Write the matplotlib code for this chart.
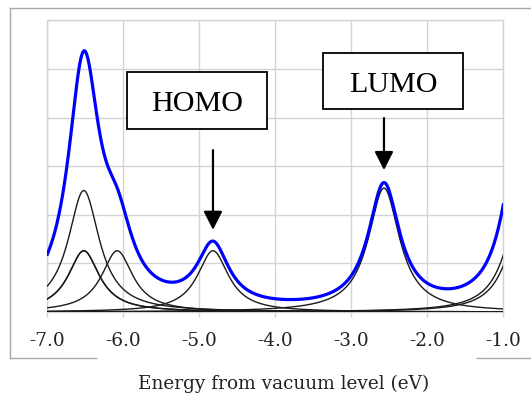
import numpy as np
import matplotlib
matplotlib.use("Agg")
import matplotlib.pyplot as plt
from matplotlib.patches import Rectangle
from matplotlib.lines import Line2D

# peak parameters (Lorentzian bands)
peak_centers = [-6.52, -6.52, -6.52, -6.08, -4.82, -2.57, -0.78, -0.78]
peak_heights = [2.50, 1.26, 1.26, 1.26, 1.26, 2.55, 2.08, 1.69]
peak_hwhm = [0.25, 0.25, 0.25, 0.25, 0.25, 0.25, 0.25, 0.25]

x_ticks = [-7.0, -6.0, -5.0, -4.0, -3.0, -2.0, -1.0]
x_labels = ["-7.0", "-6.0", "-5.0", "-4.0", "-3.0", "-2.0", "-1.0"]

homo_x = -4.82
lumo_x = -2.57

W, H = 531, 394
fig = plt.figure(figsize=(W / 100, H / 100), dpi=100)
ax = fig.add_axes([47.3 / W, 82 / H, 456 / W, 291.6 / H])

grid_c = "#d4d4d4"
x = np.linspace(-7, -1, 1200)
total = np.zeros_like(x)
for c, h, g in zip(peak_centers, peak_heights, peak_hwhm):
    y = h * g**2 / ((x - c) ** 2 + g**2)
    total += y
    ax.plot(x, y, color="#1a1a1a", lw=1.0, zorder=3)
ax.plot(x, total, color="#0000ff", lw=2.3, zorder=4)

ax.set_xlim(-7, -1)
ax.set_ylim(0, 6)
ax.set_xticks(x_ticks)
ax.set_xticklabels(x_labels, family="DejaVu Serif", fontsize=13.3, color="#222222")
ax.set_yticks(np.arange(0, 7))
ax.tick_params(axis="y", length=0, labelleft=False)
ax.tick_params(axis="x", length=3.6, width=1, color=grid_c, pad=11)
ax.grid(True, color=grid_c, lw=1.0, zorder=0)
for s in ax.spines.values():
    s.set_color(grid_c)
    s.set_linewidth(1.0)

# label boxes
def label_box(x0, x1, y0, y1, tx, ty, text):
    ax.add_patch(Rectangle((x0, y0), x1 - x0, y1 - y0, fill=True, facecolor="white",
                           edgecolor="black", lw=1.3, zorder=5, clip_on=False))
    ax.text(tx, ty, text, family="Liberation Serif", fontsize=21.7, ha="center",
            va="baseline", zorder=6)

label_box(-5.947, -4.113, 3.759, 4.932, -5.03, 4.142, "HOMO")
label_box(-3.368, -1.526, 4.171, 5.335, -2.447, 4.533, "LUMO")

arrow = dict(arrowstyle="-|>,head_length=0.75,head_width=0.38", mutation_scale=15,
             color="black", lw=1.6, shrinkA=0, shrinkB=0)
ax.annotate("", xy=(homo_x, 1.69), xytext=(homo_x, 3.33), arrowprops=arrow, zorder=6)
ax.annotate("", xy=(lumo_x, 2.92), xytext=(lumo_x, 3.99), arrowprops=arrow, zorder=6)

fig.text(283.4 / W, (H - 389) / H, "Energy from vacuum level (eV)", family="DejaVu Serif",
         fontsize=13.3, ha="center", va="baseline", color="#222222")

# outer frame with gap at the bottom
frame_c = "#a6a6a6"
def fline(xs, ys):
    fig.add_artist(Line2D([v / W for v in xs], [(H - v) / H for v in ys],
                          transform=fig.transFigure, color=frame_c, lw=1.0))

fline([10, 10], [8, 358])
fline([10, 531], [8, 8])
fline([10, 96], [358, 358])
fline([477, 531], [358, 358])

fig.savefig("out.png", dpi=100)
